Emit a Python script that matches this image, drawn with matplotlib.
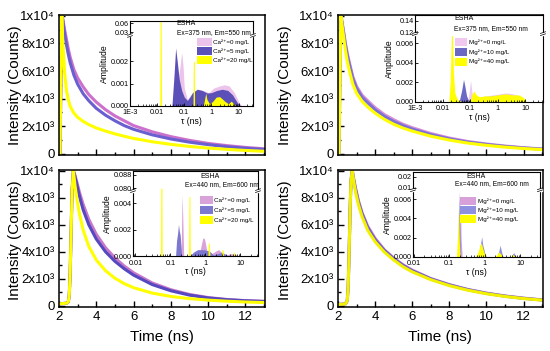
import numpy as np
import matplotlib
matplotlib.use('Agg')
import matplotlib.pyplot as plt
from matplotlib.patches import Rectangle

plt.rcParams['font.family'] = ['Liberation Sans', 'DejaVu Sans']

W, H = 550, 351

# ---------------- decay curves (counts) ----------------
t_top = [2.05, 2.15, 2.2, 2.3, 2.4, 2.5, 2.6, 2.8, 3.0, 3.3, 3.6, 4.0, 4.5,
         5.0, 5.5, 6.0, 7.0, 8.0, 9.0, 10.0, 11.0, 12.0, 13.0]
tl_ca0 = [0, 10000, 9800, 9000, 8300, 7600, 7000, 6100, 5500, 4850, 4300, 3750, 3200,
          2750, 2400, 2050, 1600, 1250, 980, 760, 600, 470, 370]
tl_ca5 = [0, 10000, 9700, 8700, 7900, 7200, 6600, 5700, 5050, 4350, 3850, 3300, 2800,
          2400, 2050, 1780, 1380, 1080, 850, 670, 520, 410, 320]
tl_ca20 = [0, 10000, 8200, 5900, 4600, 3900, 3450, 2950, 2650, 2350, 2120, 1880, 1650,
           1450, 1280, 1120, 880, 690, 540, 420, 330, 250, 190]

tr_mg0 = [0, 10000, 9700, 8900, 8000, 7300, 6700, 5600, 4900, 4250, 3850, 3350, 2850,
          2480, 2150, 1900, 1480, 1150, 900, 720, 570, 450, 360]
tr_mg10 = [0, 10000, 9650, 8800, 7900, 7150, 6550, 5450, 4750, 4100, 3700, 3200, 2720,
           2350, 2050, 1800, 1400, 1090, 850, 680, 540, 430, 340]
tr_mg40 = [0, 10000, 9500, 8500, 7500, 6700, 6100, 5050, 4400, 3800, 3400, 2950, 2500,
           2150, 1870, 1650, 1280, 1000, 780, 620, 490, 390, 310]

t_bot = [2.0, 2.4, 2.5, 2.55, 2.6, 2.65, 2.7, 2.77, 2.85, 2.95, 3.1, 3.3, 3.6, 4.0,
         4.5, 5.0, 5.5, 6.0, 7.0, 8.0, 9.0, 10.0, 11.0, 12.0, 13.0]
bl_ca0 = [150, 200, 300, 800, 2500, 5500, 8500, 10000, 9700, 9200, 8400, 7500, 6400, 5300,
          4300, 3550, 2950, 2450, 1700, 1200, 850, 620, 480, 390, 340]
bl_ca5 = [150, 200, 300, 800, 2500, 5500, 8500, 10000, 9600, 9000, 8100, 7100, 6000, 4950,
          4000, 3300, 2750, 2280, 1580, 1120, 800, 590, 460, 380, 330]
bl_ca20 = [150, 200, 300, 800, 2500, 5500, 8500, 10000, 9000, 8000, 6800, 5600, 4400, 3400,
           2600, 2050, 1650, 1350, 950, 700, 540, 430, 350, 290, 250]

br_mg0 = [100, 150, 400, 1500, 4000, 7000, 9300, 10000, 9400, 8700, 7800, 6900, 5900, 5000,
          4150, 3550, 3050, 2650, 2030, 1580, 1220, 950, 740, 580, 450]
br_mg10 = [100, 150, 400, 1500, 4000, 7000, 9300, 10000, 9300, 8600, 7700, 6800, 5800, 4900,
           4100, 3500, 3000, 2600, 2000, 1550, 1200, 930, 720, 560, 440]
br_mg40 = [100, 150, 400, 1500, 4000, 7000, 9300, 10000, 9200, 8400, 7500, 6600, 5600, 4750,
           3980, 3400, 2900, 2520, 1940, 1500, 1160, 900, 700, 545, 430]

# ---------------- lifetime distributions (insets) ----------------
# top-left: Ca, Ex=375 Em=550
tl_tau0 = [0.04, 0.05, 0.06, 0.07, 0.08, 0.09, 0.1, 0.13, 0.2, 0.3, 0.5, 0.8, 1.2, 2, 3, 4.5, 7, 10, 13]
tl_amp0 = [0, 0.0015, 0.0012, 0.0018, 0.0024, 0.0018, 0.0008, 0.0003, 0.0006, 0.00075, 0.0007,
           0.0006, 0.0008, 0.0009, 0.00095, 0.0009, 0.0006, 0.0002, 0]
tl_tau5 = [0.035, 0.042, 0.048, 0.055, 0.065, 0.08, 0.1, 0.13, 0.16, 0.2, 0.3, 0.45, 0.7, 1.0,
           1.6, 2.5, 4, 6, 9, 12]
tl_amp5 = [0, 0.0014, 0.0026, 0.002, 0.0012, 0.0007, 0.0004, 0.00025, 0.0004, 0.0006, 0.00075,
           0.0007, 0.00058, 0.0006, 0.0007, 0.00075, 0.0007, 0.0005, 0.00015, 0]
tl_tau20 = [0.012, 0.0125, 0.0128, 0.0141, 0.0145, 0.2, 0.21, 0.215, 0.235, 0.24, 0.5, 0.62,
            0.68, 0.85, 1.1, 1.5, 2.0, 2.6, 3.2, 4.2, 5.4, 6.5, 8.0]
tl_amp20 = [0, 0, 0.065, 0.065, 0, 0, 0, 0.002, 0.002, 0, 0, 0.00058, 0.0003, 0.0001, 0.0002,
            0.0004, 0.00042, 0.0003, 0.0002, 0.0001, 0.00022, 0.0001, 0]

# top-right: Mg, Ex=375 Em=550
tr_tau0 = [0.085, 0.095, 0.105, 0.115, 0.13, 0.16, 0.25, 0.4, 0.7, 1.2, 2, 3, 5, 8, 11]
tr_amp0 = [0, 0.0012, 0.0022, 0.0012, 0.0002, 0.0003, 0.0005, 0.0006, 0.0007, 0.0008, 0.0009,
           0.00085, 0.0007, 0.0003, 0]
tr_tau10 = [0.04, 0.05, 0.058, 0.065, 0.075, 0.09, 0.12, 0.2, 0.4, 0.8, 1.5, 2.5, 4, 6, 9]
tr_amp10 = [0, 0.0012, 0.0023, 0.0016, 0.0006, 0.0001, 0.0001, 0.0003, 0.0005, 0.0006, 0.0007,
            0.0007, 0.0006, 0.0004, 0]
tr_tau40 = [0.017, 0.019, 0.021, 0.023, 0.025, 0.028, 0.035, 0.05, 0.1, 0.12, 0.14, 0.17, 0.22,
            0.35, 0.6, 1, 2, 3.5, 6, 9, 11]
tr_amp40 = [0, 0.002, 0.0068, 0.0068, 0.003, 0.0009, 0.0002, 0, 0, 0.0008, 0.0011, 0.0007,
            0.0005, 0.0006, 0.0006, 0.0007, 0.0008, 0.0007, 0.0007, 0.0004, 0]

# bottom-left: Ca, Ex=440 Em=600
bl_tau0 = [0.19, 0.205, 0.215, 0.225, 0.24, 0.5, 0.7, 0.85, 0.95, 1.1, 1.5, 2.0, 2.4, 2.9, 4,
           5.5, 7, 9]
bl_amp0 = [0, 0.001, 0.0046, 0.003, 0, 0, 0.0004, 0.0014, 0.0013, 0.0004, 0.0002, 0.0004,
           0.0005, 0.0003, 0.0001, 0.0002, 0.00015, 0]
bl_tau5 = [0.14, 0.15, 0.16, 0.17, 0.18, 0.19, 0.2, 0.21, 0.35, 0.45, 0.6, 0.9, 1.3, 1.7, 2.2,
           3, 4, 5]
bl_amp5 = [0, 0.0012, 0.0017, 0.0024, 0.0019, 0.0016, 0.0008, 0, 0, 0.0003, 0.0005, 0.0005,
           0.0004, 0.0001, 0.0002, 0.0003, 0.0001, 0]
bl_tau20 = [0.052, 0.053, 0.057, 0.058, 0.33, 0.34, 0.36, 0.37, 1.18, 1.22, 1.3, 1.35, 2.9, 3.0,
            3.2, 3.3, 6.1, 6.3, 6.7, 6.9]
bl_amp20 = [0, 0.08, 0.08, 0, 0, 0.0045, 0.0045, 0, 0, 0.001, 0.001, 0, 0, 0.0005, 0.0005, 0,
            0, 0.0003, 0.0003, 0]

# bottom-right: Mg, Ex=440 Em=600
br_tau0 = [0.18, 0.195, 0.205, 0.215, 0.23, 0.6, 0.7, 0.8, 0.9, 1.0, 2.2, 2.5, 2.7, 3.0, 3.3,
           5.6, 6.2, 6.6, 7.2, 8]
br_amp0 = [0, 0.003, 0.0066, 0.002, 0, 0, 0.0004, 0.0011, 0.0008, 0, 0, 0.0004, 0.0005, 0.0003,
           0, 0, 0.0003, 0.0004, 0.0001, 0]
br_tau10 = [0.17, 0.18, 0.19, 0.2, 0.21, 0.6, 0.7, 0.78, 0.82, 0.88, 1.0, 1.1, 2.2, 2.5, 2.7,
            2.9, 3.2, 5.6, 6.2, 6.6, 7.0, 7.5]
br_amp10 = [0, 0.002, 0.0069, 0.003, 0, 0, 0.0006, 0.0016, 0.0021, 0.0012, 0.0004, 0, 0, 0.0006,
            0.0012, 0.0007, 0, 0, 0.0003, 0.0004, 0.0002, 0]
br_tau40 = [0.16, 0.17, 0.18, 0.19, 0.2, 0.55, 0.65, 0.75, 0.8, 0.9, 1.05, 2.0, 2.3, 2.5, 2.8,
            3.2, 5.5, 6.0, 6.4, 7.0]
br_amp40 = [0, 0.002, 0.0053, 0.002, 0, 0, 0.0005, 0.0013, 0.0014, 0.0007, 0, 0, 0.0003, 0.0005,
            0.0003, 0, 0, 0.0002, 0.0002, 0]

ca_labels = ['Ca\u00b2\u207a=0 mg/L', 'Ca\u00b2\u207a=5 mg/L', 'Ca\u00b2\u207a=20 mg/L']
mg_labels = ['Mg\u00b2\u207a=0 mg/L', 'Mg\u00b2\u207a=10 mg/L', 'Mg\u00b2\u207a=40 mg/L']
yticks_main = [0, 2000, 4000, 6000, 8000, 10000]
ylabels_main = ['0', '2x10\u00b3', '4x10\u00b3', '6x10\u00b3', '8x10\u00b3', '1x10\u2074']

fig = plt.figure(figsize=(W / 100, H / 100), dpi=100)


def px_axes(l, t, r, b):
    return fig.add_axes([l / W, 1 - b / H, (r - l) / W, (b - t) / H])


def main_panel(box, t, curves, colors, xlabels):
    ax = px_axes(*box)
    for y, c in zip(curves, colors):
        ax.plot(t, y, color=c, lw=2.2)
    ax.set_xlim(2, 13.05)
    ax.set_ylim(-80, 10060)
    ax.set_xticks([2, 4, 6, 8, 10, 12])
    ax.set_xticks(range(3, 14, 2), minor=True)
    ax.set_yticks(yticks_main)
    ax.set_yticklabels(ylabels_main)
    ax.set_yticks(range(1000, 10000, 2000), minor=True)
    ax.tick_params(direction='in', length=4, width=1, labelsize=9.5, pad=3,
                   top=False, right=False)
    ax.tick_params(which='minor', direction='in', length=2.5, width=1, top=False, right=False)
    if not xlabels:
        ax.set_xticklabels([])
    for s in ax.spines.values():
        s.set_linewidth(1.1)
    return ax


def broken(vals, pix):
    v = np.asarray(vals, float)
    p = np.asarray(pix, float)
    s0 = p[1] / v[1]
    s1 = (p[-1] - p[-2]) / (v[-1] - v[-2])
    v = np.concatenate([[-1.0], v, [v[-1] + 10]])
    p = np.concatenate([[-s0], p, [p[-1] + 10 * s1]])
    return (lambda y: np.interp(y, v, p)), (lambda q: np.interp(q, p, v))


def inset(box, xlim, xt, xtl, knots_v, knots_p, ytop, yt, ytl, brk, series, cols,
          labels, exem, txt_pos, leg_pos):
    ax = px_axes(*box)
    ax.set_zorder(5)
    ax.set_xscale('log')
    ax.set_yscale('function', functions=broken(knots_v, knots_p))
    for (tau, amp), c in zip(series, cols):
        ax.fill_between(tau, 0, amp, color=c, lw=0)
    ax.set_xlim(*xlim)
    ax.set_ylim(0, ytop)
    ax.set_xticks(xt)
    ax.set_xticklabels(xtl)
    ax.set_yticks(yt)
    ax.set_yticklabels(ytl)
    ax.tick_params(direction='in', length=2.5, width=0.6, labelsize=5.2,
                   top=False, right=False)
    ax.tick_params(axis='x', pad=2.5)
    ax.tick_params(axis='y', pad=1.0)
    ax.tick_params(which='minor', direction='in', length=1.3, width=0.5, top=False,
                   right=False, left=False)
    ax.set_ylabel('Amplitude', fontsize=6.2, labelpad=1)
    ax.set_xlabel('\u03c4 (ns)', fontsize=6.2, labelpad=0.5)
    for s in ax.spines.values():
        s.set_linewidth(0.8)
    # axis break marks
    for x0 in (0, 1):
        ax.add_patch(Rectangle((x0 - 0.012, brk - 0.012), 0.024, 0.024, transform=ax.transAxes,
                               color='white', clip_on=False, zorder=6))
        for dy in (-0.012, 0.012):
            ax.plot([x0 - 0.02, x0 + 0.02], [brk + dy - 0.01, brk + dy + 0.01],
                    transform=ax.transAxes, color='k', lw=0.5, clip_on=False, zorder=7)
    tx, ty = txt_pos
    ax.text(tx[0], ty[0], 'ESHA', transform=ax.transAxes, fontsize=5, va='center')
    ax.text(tx[1], ty[1], exem, transform=ax.transAxes, fontsize=4.8, va='center')
    lx0, lx1, rows = leg_pos
    for c, lab, ry in zip(cols, labels, rows):
        ax.add_patch(Rectangle((lx0, ry - 0.045), lx1 - lx0, 0.09, transform=ax.transAxes,
                               color=c, lw=0))
        ax.text(lx1 + 0.012, ry, lab, transform=ax.transAxes, fontsize=4.5, va='center')
    return ax


# ---------------- main panels ----------------
main_panel((59, 15, 265, 155), t_top, [tl_ca0, tl_ca5, tl_ca20],
           ['#cc70cc', '#6a5fd0', '#ffff00'], False)
main_panel((338, 15, 543, 155), t_top, [tr_mg0, tr_mg10, tr_mg40],
           ['#d890d8', '#7a70d8', '#ffff00'], False)
main_panel((59, 170, 265, 307), t_bot, [bl_ca0, bl_ca5, bl_ca20],
           ['#c878c8', '#5548c0', '#ffff00'], True)
main_panel((338, 170, 543, 307), t_bot, [br_mg0, br_mg10, br_mg40],
           ['#d080d0', '#6a60d0', '#f2f200'], True)

for x in (15, 285):
    fig.text(x / W, 1 - 85 / H, 'Intensity (Counts)', rotation=90, fontsize=11,
             ha='center', va='center')
    fig.text(x / W, 1 - 240 / H, 'Intensity (Counts)', rotation=90, fontsize=11,
             ha='center', va='center')
for x in (162, 440):
    fig.text(x / W, 1 - 337 / H, 'Time (ns)', fontsize=11, ha='center', va='center')

# ---------------- insets ----------------
inset((130, 21, 253, 106), (0.001, 34), [0.001, 0.01, 0.1, 1, 10],
      ['1E-3', '0.01', '0.1', '1', '10'],
      [0, 0.0031, 0.025, 0.07], [0, 69.1, 72.5, 86], 0.0667,
      [0, 0.001, 0.002, 0.03, 0.06], ['0.000', '0.001', '0.002', '0.03', '0.06'], 0.83,
      [(tl_tau0, tl_amp0), (tl_tau5, tl_amp5), (tl_tau20, tl_amp20)],
      ['#ebc3eb', '#5a50b8', '#ffff00'], ca_labels, 'Ex=375 nm, Em=550 nm',
      ((0.38, 0.38), (0.965, 0.867)), (0.542, 0.665, (0.756, 0.65, 0.541)))

inset((415, 15, 543, 101.7), (0.0013, 45), [0.001, 0.01, 0.1, 1, 10],
      ['1E-3', '0.01', '0.1', '1', '10'],
      [0, 0.0068, 0.12, 0.16], [0, 66, 69.4, 92.6], 0.1498,
      [0, 0.002, 0.004, 0.006, 0.12, 0.14],
      ['0.000', '0.002', '0.004', '0.006', '0.12', '0.14'], 0.785,
      [(tr_tau0, tr_amp0), (tr_tau10, tr_amp10), (tr_tau40, tr_amp40)],
      ['#f0c8f0', '#6c68c4', '#ffff00'], mg_labels, 'Ex=375 nm, Em=550 nm',
      ((0.305, 0.305), (0.954, 0.847)), (0.31, 0.41, (0.692, 0.577, 0.462)))

inset((133, 171, 258, 256.3), (0.0085, 32), [0.01, 0.1, 1, 10],
      ['0.01', '0.1', '1', '10'],
      [0, 0.0048, 0.08, 0.095], [0, 63.8, 68, 92.9], 0.0904,
      [0, 0.002, 0.004, 0.080, 0.088], ['0.000', '0.002', '0.004', '0.080', '0.088'], 0.77,
      [(bl_tau0, bl_amp0), (bl_tau5, bl_amp5), (bl_tau20, bl_amp20)],
      ['#d9a3d9', '#7c78d0', '#ffff00'], ca_labels, 'Ex=440 nm, Em=600 nm',
      ((0.536, 0.416), (0.933, 0.836)), (0.536, 0.64, (0.66, 0.543, 0.426)))

inset((413, 172, 540, 256.7), (0.0095, 36), [0.01, 0.1, 1, 10],
      ['0.01', '0.1', '1', '10'],
      [0, 0.0069, 0.01, 0.03], [0, 66.2, 69, 91], 0.0243,
      [0, 0.002, 0.004, 0.006, 0.01, 0.02],
      ['0.000', '0.002', '0.004', '0.006', '0.01', '0.02'], 0.79,
      [(br_tau0, br_amp0), (br_tau10, br_amp10), (br_tau40, br_amp40)],
      ['#d8a0d8', '#9090e0', '#ffff00'], mg_labels, 'Ex=440 nm, Em=600 nm',
      ((0.423, 0.33), (0.944, 0.866)), (0.37, 0.5, (0.657, 0.551, 0.445)))

fig.savefig('out.png', dpi=100)
